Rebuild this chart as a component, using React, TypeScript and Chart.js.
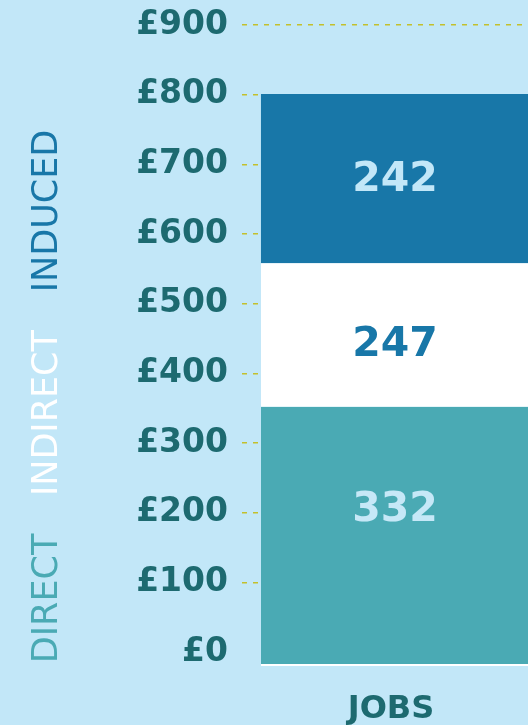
import React, { useEffect, useRef } from "react";
import { Chart, registerables } from "chart.js";

Chart.register(...registerables);

const categories = ["JOBS"];
const seriesNames = ["DIRECT", "INDIRECT", "INDUCED"];
const seriesValues = [352, 206, 243];
const jobLabels = ["332", "247", "242"];
const jobLabelAnchors = [210, 446, 683];
const seriesNameAnchors = [77, 343, 633];
const tickValues = [0, 100, 200, 300, 400, 500, 600, 700, 800, 900];

const BG = "#c2e7f8";
const TEAL_TEXT = "#1d6a70";
const barColors = ["#4aaab4", "#ffffff", "#1877a8"];
const jobLabelColors = ["#c6e8f7", "#1877a8", "#c2e7f8"];
const nameColors = ["#4aaab4", "#ffffff", "#1877a8"];
const FONT = "'DejaVu Sans', sans-serif";

const labelPlugin = {
  id: "segmentLabels",
  afterDatasetsDraw(chart: any) {
    const ctx = chart.ctx;
    const y = chart.scales.y;
    ctx.save();
    for (let i = 0; i < jobLabels.length; i++) {
      const meta = chart.getDatasetMeta(i);
      const bar = meta.data[0];
      if (!bar) continue;
      const size = 41;
      ctx.font = `bold ${size}px ${FONT}`;
      ctx.fillStyle = jobLabelColors[i];
      ctx.textAlign = "center";
      ctx.textBaseline = "alphabetic";
      const py = y.getPixelForValue(jobLabelAnchors[i]);
      ctx.fillText(jobLabels[i], bar.x, py + size * 0.365);
    }
    for (let i = 0; i < seriesNames.length; i++) {
      const size = 35;
      const py = y.getPixelForValue(seriesNameAnchors[i]);
      ctx.save();
      ctx.translate(44, py);
      ctx.rotate(-Math.PI / 2);
      ctx.font = `${size}px ${FONT}`;
      ctx.fillStyle = nameColors[i];
      ctx.textAlign = "center";
      ctx.textBaseline = "alphabetic";
      ctx.fillText(seriesNames[i], 0, size * 0.365);
      ctx.restore();
    }
    ctx.restore();
  },
};

export default function App() {
  const ref = useRef<HTMLCanvasElement | null>(null);
  useEffect(() => {
    if (!ref.current) return;
    const chart = new Chart(ref.current, {
      type: "bar",
      data: {
        labels: categories,
        datasets: seriesNames.map((name, i) => ({
          label: name,
          data: [seriesValues[i]],
          backgroundColor: barColors[i],
          ...(i === 0
            ? {
                base: -20,
                borderColor: "#ffffff",
                borderWidth: { top: 0, left: 0, right: 0, bottom: 2 },
                borderSkipped: false,
              }
            : { borderWidth: 0 }),
          barPercentage: 1,
          categoryPercentage: 0.876,
        })),
      },
      options: {
        animation: false,
        responsive: false,
        maintainAspectRatio: false,
        layout: { padding: { top: 25, left: 0, right: 0, bottom: 0 } },
        plugins: {
          legend: { display: false },
          tooltip: { enabled: false },
        },
        scales: {
          x: {
            stacked: true,
            grid: { display: false },
            border: { display: false },
            ticks: {
              color: TEAL_TEXT,
              font: { family: FONT, size: 32, weight: "bold" },
              padding: 16,
              labelOffset: -4,
            },
            afterFit: (s: any) => {
              s.height = 59;
              s.paddingLeft = 0;
              s.paddingRight = 0;
            },
          },
          y: {
            stacked: true,
            min: -20,
            max: 900,
            afterBuildTicks: (s: any) => {
              s.ticks = tickValues.map((v) => ({ value: v }));
            },
            ticks: {
              color: TEAL_TEXT,
              font: { family: FONT, size: 33, weight: "bold" },
              padding: 14,
              callback: (v: any) => "£" + v,
            },
            grid: {
              color: (c: any) =>
                c.tick && c.tick.value === 0 ? "rgba(0,0,0,0)" : "#c3c02c",
              lineWidth: 1.5,
              drawTicks: false,
            },
            border: { display: false, dash: [5, 6] },
            afterFit: (s: any) => {
              s.width = 242;
              s.paddingTop = 0;
              s.paddingBottom = 0;
            },
          },
        },
      },
      plugins: [labelPlugin],
    });
    return () => chart.destroy();
  }, []);

  return (
    <div
      style={{
        position: "fixed",
        left: 0,
        top: 0,
        width: 528,
        height: 725,
        overflow: "hidden",
        background: BG,
      }}
    >
      <canvas ref={ref} width={548} height={725} style={{ display: "block", width: 548, height: 725 }} />
    </div>
  );
}
